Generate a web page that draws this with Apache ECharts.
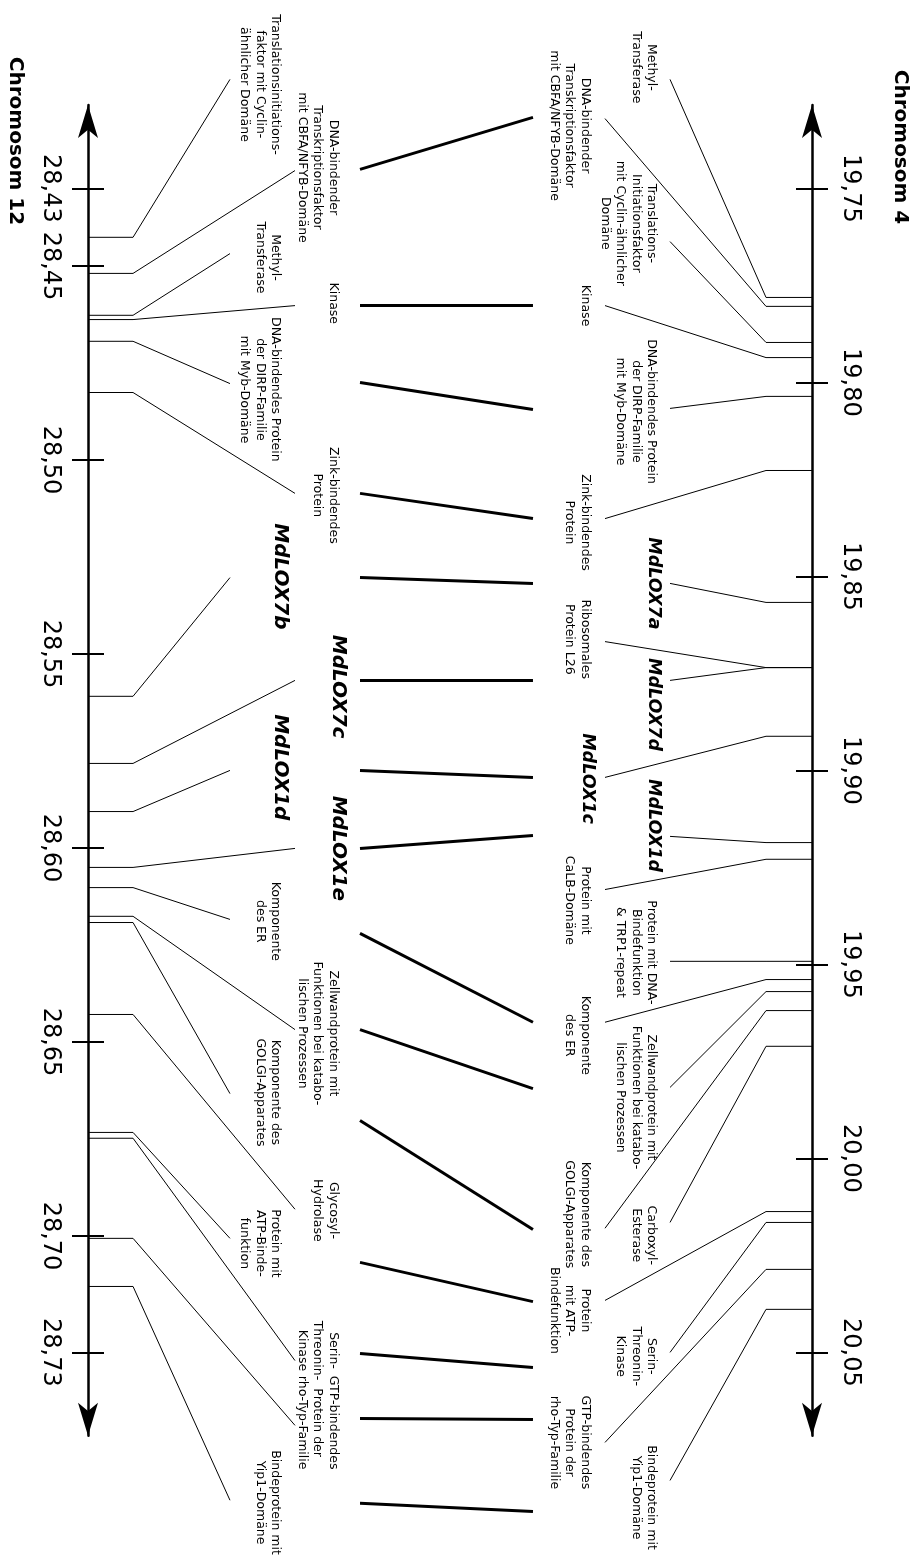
<!DOCTYPE html>
<html>
<head>
<meta charset="utf-8">
<script src="https://cdn.jsdelivr.net/npm/echarts@6/dist/echarts.min.js"></script>
<style>
  html, body { margin: 0; padding: 0; background: #fff; }
  #chart { width: 917px; height: 1567px; }
</style>
</head>
<body>
<div id="chart"></div>
<script>
// ---------- Chromosome 4 (right) ----------
const chr4Keys = ['methyl', 'cbfa', 'transl', 'kinase', 'dirp', 'zink', 'lox7a', 'rib', 'lox7d', 'lox1c',
  'lox1d', 'calb', 'trp1', 'er', 'zellwand', 'golgi', 'carboxyl', 'atp', 'serin', 'gtp', 'yip1'];
const chr4Text = [
  'Methyl-\nTransferase',
  'DNA-bindender\nTranskriptionsfaktor\nmit CBFA/NFYB-Domäne',
  'Translations-\nInitiationsfaktor\nmit Cyclin-ähnlicher\nDomäne',
  'Kinase',
  'DNA-bindendes Protein\nder DIRP-Familie\nmit Myb-Domäne',
  'Zink-bindendes\nProtein',
  'MdLOX7a',
  'Ribosomales\nProtein L26',
  'MdLOX7d',
  'MdLOX1c',
  'MdLOX1d',
  'Protein mit\nCaLB-Domäne',
  'Protein mit DNA-\nBindefunktion\n& TRP1-repeat',
  'Komponente\ndes ER',
  'Zellwandprotein mit\nFunktionen bei katabo-\nlischen Prozessen',
  'Komponente des\nGOLGI-Apparates',
  'Carboxyl-\nEsterase',
  'Protein\nmit ATP-\nBindefunktion',
  'Serin-\nThreonin-\nKinase',
  'GTP-bindendes\nProtein der\nrho-Typ-Familie',
  'Bindeprotein mit\nYip1-Domäne'
];
// gene position on the chromosome (Mb)
const chr4Pos = [19.7781, 19.7804, 19.7897, 19.7936, 19.8036, 19.8227, 19.8567, 19.8735, 19.8735, 19.8912,
  19.9186, 19.9229, 19.9492, 19.9539, 19.9570, 19.9619, 19.9711, 20.0137, 20.0165, 20.0286, 20.0389];
// where each leader line ends, along the axis (Mb scale)
const chr4LineEnd = [19.7219, 19.7320, 19.7637, 19.7802, 19.8067, 19.8351, 19.8518, 19.8668, 19.8768, 19.9018,
  19.9170, 19.9307, 19.9492, 19.9649, 19.9817, 20.0180, 20.0165, 20.0366, 20.0500, 20.0732, 20.0830];
// centre of each label text, along the axis (Mb scale)
const chr4TextAt = [19.7188, 19.7338, 19.7590, 19.7802, 19.8075, 19.8361, 19.8518, 19.8662, 19.8830, 19.9021,
  19.9142, 19.9335, 19.9469, 19.9683, 19.9843, 20.0144, 20.0198, 20.0392, 20.0510, 20.0732, 20.0874];
// label column: 0 = close to the axis, 1 = farther out
const chr4Col = [0, 1, 0, 1, 0, 1, 0, 1, 0, 1, 0, 1, 0, 1, 0, 1, 0, 1, 0, 1, 0];
const chr4Ticks = [19.75, 19.80, 19.85, 19.90, 19.95, 20.00, 20.05];

// ---------- Chromosome 12 (left) ----------
const chr12Keys = ['transl', 'cbfa', 'methyl', 'kinase', 'dirp', 'zink', 'lox7b', 'lox7c', 'lox1d', 'lox1e',
  'er', 'zellwand', 'golgi', 'glycosyl', 'atp', 'serin', 'gtp', 'yip1'];
const chr12Text = [
  'Translationsinitiations-\nfaktor mit Cyclin-\nähnlicher Domäne',
  'DNA-bindender\nTranskriptionsfaktor\nmit CBFA/NFYB-Domäne',
  'Methyl-\nTransferase',
  'Kinase',
  'DNA-bindendes Protein\nder DIRP-Familie\nmit Myb-Domäne',
  'Zink-bindendes\nProtein',
  'MdLOX7b',
  'MdLOX7c',
  'MdLOX1d',
  'MdLOX1e',
  'Komponente\ndes ER',
  'Zellwandprotein mit\nFunktionen bei katabo-\nlischen Prozessen',
  'Komponente des\nGOLGI-Apparates',
  'Glycosyl-\nHydrolase',
  'Protein mit\nATP-Binde-\nfunktion',
  'Serin-\nThreonin-\nKinase',
  'GTP-bindendes\nProtein der\nrho-Typ-Familie',
  'Bindeprotein mit\nYip1-Domäne'
];
const chr12Pos = [28.4426, 28.4519, 28.4627, 28.4638, 28.4694, 28.4826, 28.5609, 28.5782, 28.5906, 28.6050,
  28.6102, 28.6176, 28.6192, 28.6429, 28.6733, 28.6748, 28.7006, 28.7130];
const chr12LineEnd = [28.4019, 28.4254, 28.4468, 28.4602, 28.4803, 28.5086, 28.5303, 28.5568, 28.5800, 28.6001,
  28.6184, 28.6468, 28.6633, 28.6931, 28.7006, 28.7321, 28.7488, 28.7681];
const chr12TextAt = [28.4032, 28.4246, 28.4478, 28.4596, 28.4818, 28.5091, 28.5300, 28.5584, 28.5792, 28.6001,
  28.6189, 28.6478, 28.6630, 28.6934, 28.7019, 28.7295, 28.7481, 28.7687];
const chr12Col = [0, 1, 0, 1, 0, 1, 0, 1, 0, 1, 0, 1, 0, 1, 0, 1, 1, 0];
const chr12Ticks = [28.43, 28.45, 28.50, 28.55, 28.60, 28.65, 28.70, 28.73];

// homologous pairs: [chromosome 12 gene, chromosome 4 gene]
const linkPairs = [
  ['cbfa', 'cbfa'], ['kinase', 'kinase'], ['dirp', 'dirp'], ['zink', 'zink'],
  ['lox7b', 'lox7a'], ['lox7c', 'lox7d'], ['lox1d', 'lox1c'], ['lox1e', 'lox1d'],
  ['er', 'er'], ['zellwand', 'zellwand'], ['golgi', 'golgi'], ['atp', 'atp'],
  ['serin', 'serin'], ['gtp', 'gtp'], ['yip1', 'yip1']
];
// link ends, in the Mb scale of each chromosome
const linkOn12 = [28.4251, 28.4602, 28.4800, 28.5086, 28.5303, 28.5568, 28.5800, 28.6001,
  28.6220, 28.6468, 28.6702, 28.7068, 28.7303, 28.7470, 28.7689];
const linkOn4 = [19.7317, 19.7802, 19.8070, 19.8351, 19.8518, 19.8768, 19.9018, 19.9168,
  19.9649, 19.9820, 20.0183, 20.0369, 20.0539, 20.0673, 20.0910];

// visible window of each chromosome axis (same Mb span on both)
const chr4Range = [19.7285, 20.0715];
const chr12Range = [28.4085, 28.7515];

// horizontal layout: 0 = chromosome 12 axis, 1 = chromosome 4 axis
const LAYOUT = {
  chr4: { axis: 1, knee: 0.9365, ends: [0.8039, 0.7141], textTop: [0.7887, 0.6975], loxShift: 3, loxSize: 17.5 },
  chr12: { axis: 0, knee: 0.0622, ends: [0.1961, 0.2859], textTop: [0.2700, 0.3494], loxShift: 7, loxSize: 20 },
  link: [0.3757, 0.6146]
};

const FONT = 'DejaVu Sans';
const chart = echarts.init(document.getElementById('chart'), null, { renderer: 'canvas' });

function geneRenderer(side, texts) {
  const L = LAYOUT[side];
  return function (params, api) {
    const pos = api.value(0), end = api.value(1), at = api.value(2), col = api.value(3);
    const pAxis = api.coord([L.axis, pos]);
    const pKnee = api.coord([L.knee, pos]);
    const pEnd = api.coord([L.ends[col], end]);
    const pText = api.coord([L.textTop[col], at]);
    const text = texts[params.dataIndex];
    const lox = text.indexOf('MdLOX') === 0;
    return {
      type: 'group',
      children: [
        {
          type: 'polyline',
          shape: { points: [pAxis, pKnee, pEnd] },
          style: { stroke: '#000', lineWidth: 1, fill: null }
        },
        {
          type: 'text',
          x: pText[0] + (lox ? L.loxShift : 0), y: pText[1],
          rotation: -Math.PI / 2,
          style: {
            text: text,
            align: 'center', verticalAlign: 'top',
            fontFamily: FONT,
            fontSize: lox ? L.loxSize : 12.5,
            fontWeight: lox ? 'bold' : 'normal',
            fontStyle: lox ? 'italic' : 'normal',
            lineHeight: lox ? L.loxSize : 15.5,
            fill: '#000'
          }
        }
      ]
    };
  };
}

function tickLabel(v) { return v.toFixed(2).replace('.', ','); }

function mainAxis(position, range, ticks) {
  return {
    type: 'value', position: position, inverse: true, min: range[0], max: range[1], offset: 0,
    axisLine: { show: true, onZero: false, symbol: ['arrow', 'arrow'], symbolSize: [15, 33],
      lineStyle: { color: '#000', width: 2.5 } },
    axisTick: { show: true, customValues: ticks, length: 16, lineStyle: { color: '#000', width: 2 } },
    axisLabel: { show: true, customValues: ticks, rotate: -90, margin: 26, formatter: tickLabel,
      fontFamily: FONT, fontSize: 24, color: '#000' },
    splitLine: { show: false }
  };
}
function innerTicks(position, range, ticks) {
  return {
    type: 'value', position: position, inverse: true, min: range[0], max: range[1], offset: 0,
    axisLine: { show: false, onZero: false },
    axisTick: { show: true, inside: true, customValues: ticks, length: 16, lineStyle: { color: '#000', width: 2 } },
    axisLabel: { show: false },
    splitLine: { show: false }
  };
}

const option = {
  animation: false,
  backgroundColor: '#fff',
  grid: { left: 88, right: 105, top: 105, height: 0.343 * 3880 },
  xAxis: { type: 'value', min: 0, max: 1, show: false },
  yAxis: [
    mainAxis('right', chr4Range, chr4Ticks),
    innerTicks('right', chr4Range, chr4Ticks),
    mainAxis('left', chr12Range, chr12Ticks),
    innerTicks('left', chr12Range, chr12Ticks)
  ],
  graphic: [
    { type: 'text', x: 900, y: 147, rotation: -Math.PI / 2,
      style: { text: 'Chromosom 4', fontFamily: FONT, fontWeight: 'bold', fontSize: 20,
        align: 'center', verticalAlign: 'middle', fill: '#000' } },
    { type: 'text', x: 15, y: 141, rotation: -Math.PI / 2,
      style: { text: 'Chromosom 12', fontFamily: FONT, fontWeight: 'bold', fontSize: 20,
        align: 'center', verticalAlign: 'middle', fill: '#000' } }
  ],
  series: [
    {
      type: 'custom', name: 'Chromosom 4', xAxisIndex: 0, yAxisIndex: 0, clip: false, silent: true,
      data: chr4Pos.map((p, i) => [p, chr4LineEnd[i], chr4TextAt[i], chr4Col[i]]),
      renderItem: geneRenderer('chr4', chr4Text)
    },
    {
      type: 'custom', name: 'Chromosom 12', xAxisIndex: 0, yAxisIndex: 2, clip: false, silent: true,
      data: chr12Pos.map((p, i) => [p, chr12LineEnd[i], chr12TextAt[i], chr12Col[i]]),
      renderItem: geneRenderer('chr12', chr12Text)
    },
    {
      type: 'custom', name: 'Syntenie', xAxisIndex: 0, yAxisIndex: 0, clip: false, silent: true,
      data: linkPairs.map((pair, i) => [linkOn4[i], linkOn12[i]]),
      renderItem: function (params, api) {
        const right = api.coord([LAYOUT.link[1], api.value(0)]);
        const leftX = api.coord([LAYOUT.link[0], api.value(0)])[0];
        const leftY = chart.convertToPixel({ yAxisIndex: 2 }, api.value(1));
        return {
          type: 'line',
          shape: { x1: leftX, y1: leftY, x2: right[0], y2: right[1] },
          style: { stroke: '#000', lineWidth: 3 }
        };
      }
    }
  ]
};
chart.setOption(option);
</script>
</body>
</html>
